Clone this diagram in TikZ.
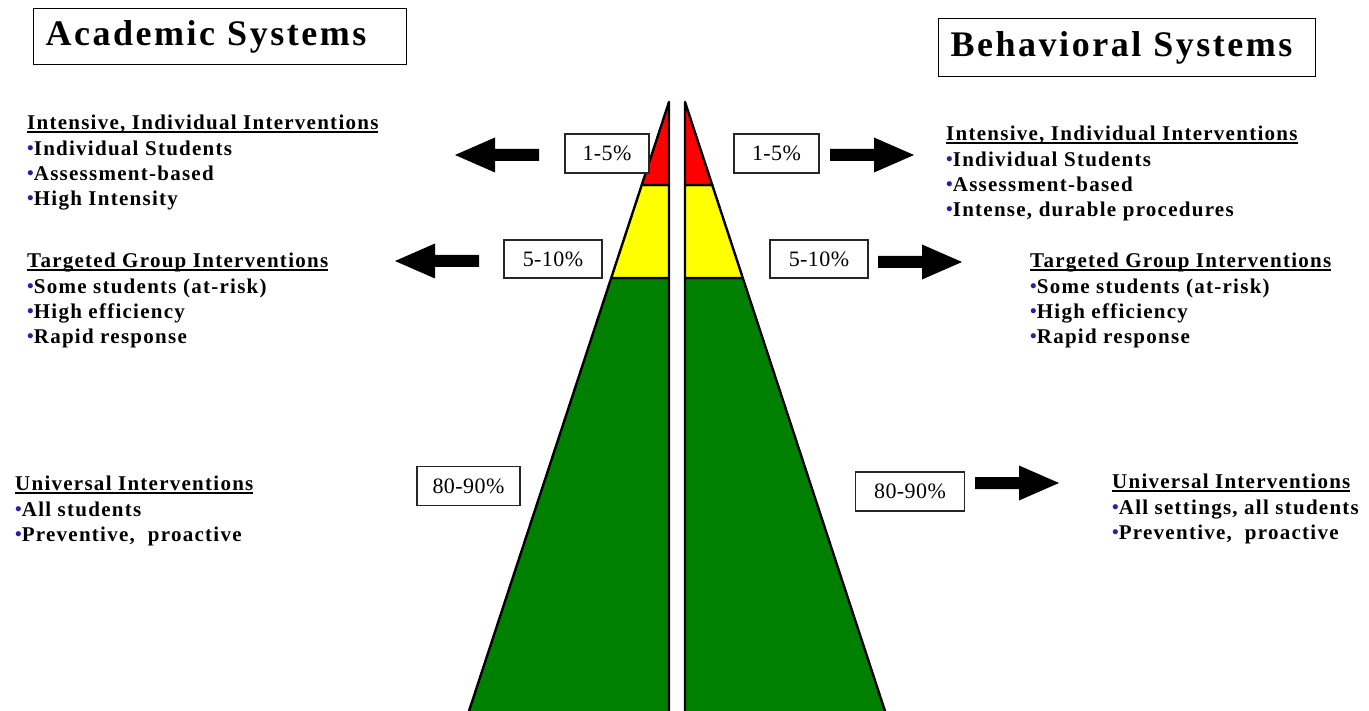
\documentclass[tikz,border=0pt]{standalone}
\usepackage{fontspec}
\usetikzlibrary{calc}
\setmainfont{Liberation Serif}
\newfontfamily\bodyfont[LetterSpace=6]{Liberation Serif}
\newfontfamily\pctfont[LetterSpace=2]{Liberation Serif}
\newfontfamily\titlefont[LetterSpace=7,WordSpace=0.3]{Liberation Serif}

\definecolor{tierred}{RGB}{255,0,0}
\definecolor{tieryellow}{RGB}{255,255,0}
\definecolor{tiergreen}{RGB}{0,128,0}
\definecolor{bulletblue}{RGB}{35,35,160}

% small blue bullet in front of list items
\newcommand\tierbullet{\textcolor{bulletblue}{\raisebox{1pt}{\fontsize{19}{19}\selectfont\char"2022}}}
% underlined heading with a fixed rule position
\newsavebox\ulbox
\newcommand\ulhead[1]{\sbox\ulbox{#1}\rlap{\rule[-3pt]{\wd\ulbox}{1.4pt}}\usebox\ulbox}

\tikzset{
  x=1pt, y=-1pt,
  titlebox/.style={draw=black, line width=1.3pt, fill=white, anchor=north west,
    inner xsep=12pt, inner ysep=0pt, align=left,
    font=\titlefont\bfseries\fontsize{36}{38}\selectfont},
  pctbox/.style={draw=black!85, line width=1.2pt, fill=white, inner sep=0pt,
    font=\pctfont\fontsize{22}{24}\selectfont},
  textblock/.style={anchor=north west, inner sep=0pt, align=left,
    font=\bodyfont\bfseries\fontsize{21}{25.3}\selectfont},
  tier/.style={draw=black, line width=2.4pt, line join=round},
  blockarrow/.pic={
    \fill[black] (0,-6) -- (44,-6) -- (44,-17.5) -- (84,0) -- (44,17.5) -- (44,6) -- (0,6) -- cycle;
  }
}

\begin{document}
\begin{tikzpicture}
\useasboundingbox (0,0) rectangle (1369,711);
\fill[white] (0,0) rectangle (1369,711);

% ---- split pyramid ----
\begin{scope}
\clip (0,0) rectangle (1369,711);
\coordinate (la) at (669,102);
\coordinate (lb) at (467.7,715);
\coordinate (lc) at (669,715);
\coordinate (ra) at (685,102);
\coordinate (rb) at (886.3,715);
\coordinate (rc) at (685,715);
\coordinate (l1) at ($(la)!0.1354!(lb)$);
\coordinate (l2) at ($(la)!0.2871!(lb)$);
\coordinate (r1) at ($(ra)!0.1354!(rb)$);
\coordinate (r2) at ($(ra)!0.2871!(rb)$);
\coordinate (lm1) at (669,185);
\coordinate (lm2) at (669,278);
\coordinate (rm1) at (685,185);
\coordinate (rm2) at (685,278);

\filldraw[tier, fill=tiergreen] (l2) -- (lb) -- (lc) -- (lm2) -- cycle;
\filldraw[tier, fill=tieryellow] (l1) -- (l2) -- (lm2) -- (lm1) -- cycle;
\filldraw[tier, fill=tierred] (la) -- (l1) -- (lm1) -- cycle;

\filldraw[tier, fill=tiergreen] (r2) -- (rb) -- (rc) -- (rm2) -- cycle;
\filldraw[tier, fill=tieryellow] (r1) -- (r2) -- (rm2) -- (rm1) -- cycle;
\filldraw[tier, fill=tierred] (ra) -- (r1) -- (rm1) -- cycle;
\end{scope}

% ---- titles ----
\node[titlebox, minimum width=373, minimum height=56, text width=349] (acad) at (33,8) {Academic Systems};
\node[titlebox, minimum width=377, minimum height=58, text width=353] (behav) at (938,18) {Behavioral Systems};

% ---- percentage labels ----
\node[pctbox, minimum width=84, minimum height=39] (p1l) at (607,153.5) {1-5\%};
\node[pctbox, minimum width=85, minimum height=39] (p1r) at (776.5,153.5) {1-5\%};
\node[pctbox, minimum width=98, minimum height=38] (p2l) at (553,259) {5-10\%};
\node[pctbox, minimum width=98, minimum height=38] (p2r) at (819,259) {5-10\%};
\node[pctbox, minimum width=103, minimum height=39] (p3l) at (468.5,486) {80-90\%};
\node[pctbox, minimum width=109, minimum height=39] (p3r) at (910,491.5) {80-90\%};

% ---- block arrows ----
\pic[xscale=-1] at (539,155) {blockarrow};
\pic at (830,155) {blockarrow};
\pic[xscale=-1] at (479,261) {blockarrow};
\pic at (878,262) {blockarrow};
\pic at (975,483) {blockarrow};

% ---- academic side ----
\node[textblock] (acint) at (27,115) {\ulhead{Intensive, Individual Interventions}\\
  \tierbullet Individual Students\\
  \tierbullet Assessment-based\\
  \tierbullet High Intensity};
\node[textblock] (actarg) at (27,253) {\ulhead{Targeted Group Interventions}\\
  \tierbullet Some students (at-risk)\\
  \tierbullet High efficiency\\
  \tierbullet Rapid response};
\node[textblock] (acuniv) at (15,476) {\ulhead{Universal Interventions}\\
  \tierbullet All students\\
  \tierbullet Preventive,\ \ proactive};

% ---- behavioral side ----
\node[textblock] (bhint) at (946,126) {\ulhead{Intensive, Individual Interventions}\\
  \tierbullet Individual Students\\
  \tierbullet Assessment-based\\
  \tierbullet Intense, durable procedures};
\node[textblock] (bhtarg) at (1030,253) {\ulhead{Targeted Group Interventions}\\
  \tierbullet Some students (at-risk)\\
  \tierbullet High efficiency\\
  \tierbullet Rapid response};
\node[textblock] (bhuniv) at (1112,474) {\ulhead{Universal Interventions}\\
  \tierbullet All settings,\ all students\\
  \tierbullet Preventive,\ \ proactive};
\end{tikzpicture}
\end{document}
